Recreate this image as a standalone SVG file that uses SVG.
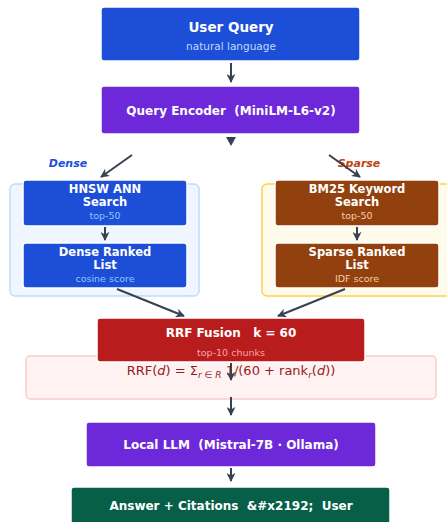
<svg xmlns="http://www.w3.org/2000/svg" width="447" height="522" viewBox="0 0 447 522">
<defs>
<marker id="ah" viewBox="0 0 10 10" refX="9" refY="5" markerWidth="4.5" markerHeight="4.5" orient="auto" markerUnits="strokeWidth">
<path d="M0,0 L10,5 L0,10 L3,5 Z" fill="#374151"/>
</marker>
</defs>
<style>
text{font-family:"DejaVu Sans","Liberation Sans",sans-serif;text-anchor:middle;white-space:pre}
.node{stroke:#ffffff;stroke-width:1.5}
.t{font-weight:bold;fill:#ffffff;font-size:12px}
.tt{font-weight:bold;fill:#ffffff;font-size:11.5px}
.s{font-size:9.5px}
.c{fill:none;stroke:#374151;stroke-width:2;marker-end:url(#ah)}
</style>
<rect width="447" height="522" fill="#ffffff"/>
<g id="cluster-dense">
<rect x="10" y="184" width="189" height="112" rx="5" fill="#eff6ff" stroke="#bfdbfe" stroke-width="1.5"/>
<text x="68" y="167" style="font-size:11px;font-weight:bold;font-style:italic;fill:#1d4ed8">Dense</text>
</g>
<g id="cluster-sparse">
<rect x="262" y="184" width="195" height="112" rx="5" fill="#fffbeb" stroke="#fcd34d" stroke-width="1.5"/>
<text x="359" y="167" style="font-size:11px;font-weight:bold;font-style:italic;fill:#c2410c">Sparse</text>
</g>
<g id="formula">
<rect x="26" y="356" width="410" height="43" rx="4" fill="#fef2f2" stroke="#fecaca" stroke-width="1.5"/>
<text x="231" y="375" style="font-size:13px;fill:#991b1b">RRF(<tspan font-style="italic">d</tspan>) = Σ<tspan font-style="italic" font-size="9" dy="3">r ∈ R</tspan><tspan dy="-3"> 1/(60 + rank</tspan><tspan font-style="italic" font-size="9" dy="3">r</tspan><tspan dy="-3">(</tspan><tspan font-style="italic">d</tspan>))</text>
</g>
<g id="user-query">
<rect class="node" x="101" y="7" width="259" height="54" rx="3" fill="#1d4ed8"/>
<text x="231" y="32" class="t" style="font-size:13.5px">User Query</text>
<text x="231" y="50" style="font-size:10.5px;fill:#bfdbfe">natural language</text>
</g>
<g id="query-encoder">
<rect class="node" x="101" y="86" width="259" height="48" rx="3" fill="#6d28d9"/>
<text x="231" y="114.5" class="t">Query Encoder  (MiniLM-L6-v2)</text>
</g>
<g id="hnsw">
<rect class="node" x="23" y="180" width="164" height="46" rx="3" fill="#1d4ed8"/>
<text x="105" y="193" class="tt">HNSW ANN</text>
<text x="105" y="206" class="tt">Search</text>
<text x="105" y="219" class="s" style="fill:#93c5fd">top-50</text>
</g>
<g id="dense-list">
<rect class="node" x="23" y="243" width="164" height="45" rx="3" fill="#1d4ed8"/>
<text x="105" y="256" class="tt">Dense Ranked</text>
<text x="105" y="269" class="tt">List</text>
<text x="105" y="282" class="s" style="fill:#93c5fd">cosine score</text>
</g>
<g id="bm25">
<rect class="node" x="275" y="180" width="164" height="46" rx="3" fill="#92400e"/>
<text x="357" y="193" class="tt">BM25 Keyword</text>
<text x="357" y="206" class="tt">Search</text>
<text x="357" y="219" class="s" style="fill:#f5cfa6">top-50</text>
</g>
<g id="sparse-list">
<rect class="node" x="275" y="243" width="164" height="45" rx="3" fill="#92400e"/>
<text x="357" y="256" class="tt">Sparse Ranked</text>
<text x="357" y="269" class="tt">List</text>
<text x="357" y="282" class="s" style="fill:#f5cfa6">IDF score</text>
</g>
<g id="rrf">
<rect class="node" x="97" y="318" width="268" height="44" rx="3" fill="#b91c1c"/>
<text x="231" y="337" class="t">RRF Fusion   k = 60</text>
<text x="231" y="356" style="font-size:9.5px;fill:#fca5a5">top-10 chunks</text>
</g>
<g id="llm">
<rect class="node" x="86" y="422" width="290" height="45" rx="3" fill="#6d28d9"/>
<text x="231" y="448.5" class="t">Local LLM  (Mistral-7B · Ollama)</text>
</g>
<g id="answer">
<rect class="node" x="71" y="487" width="319" height="45" rx="3" fill="#065f46"/>
<text x="231" y="510" class="t">Answer + Citations  &amp;#x2192;  User</text>
</g>
<g id="connectors">
<path class="c" d="M231,63 L231,82"/>
<path d="M226,137 L236,137 L231,146 Z" fill="#374151"/>
<path class="c" d="M132,155 L101,177"/>
<path class="c" d="M329,155 L360,177"/>
<path class="c" d="M105,227 L105,240"/>
<path class="c" d="M357,227 L357,240"/>
<path class="c" d="M117,289 L184,316"/>
<path class="c" d="M345,289 L278,316"/>
<path class="c" d="M231,363 L231,380"/>
<path class="c" d="M231,397 L231,415"/>
<path class="c" d="M231,468 L231,481"/>
</g>
</svg>
